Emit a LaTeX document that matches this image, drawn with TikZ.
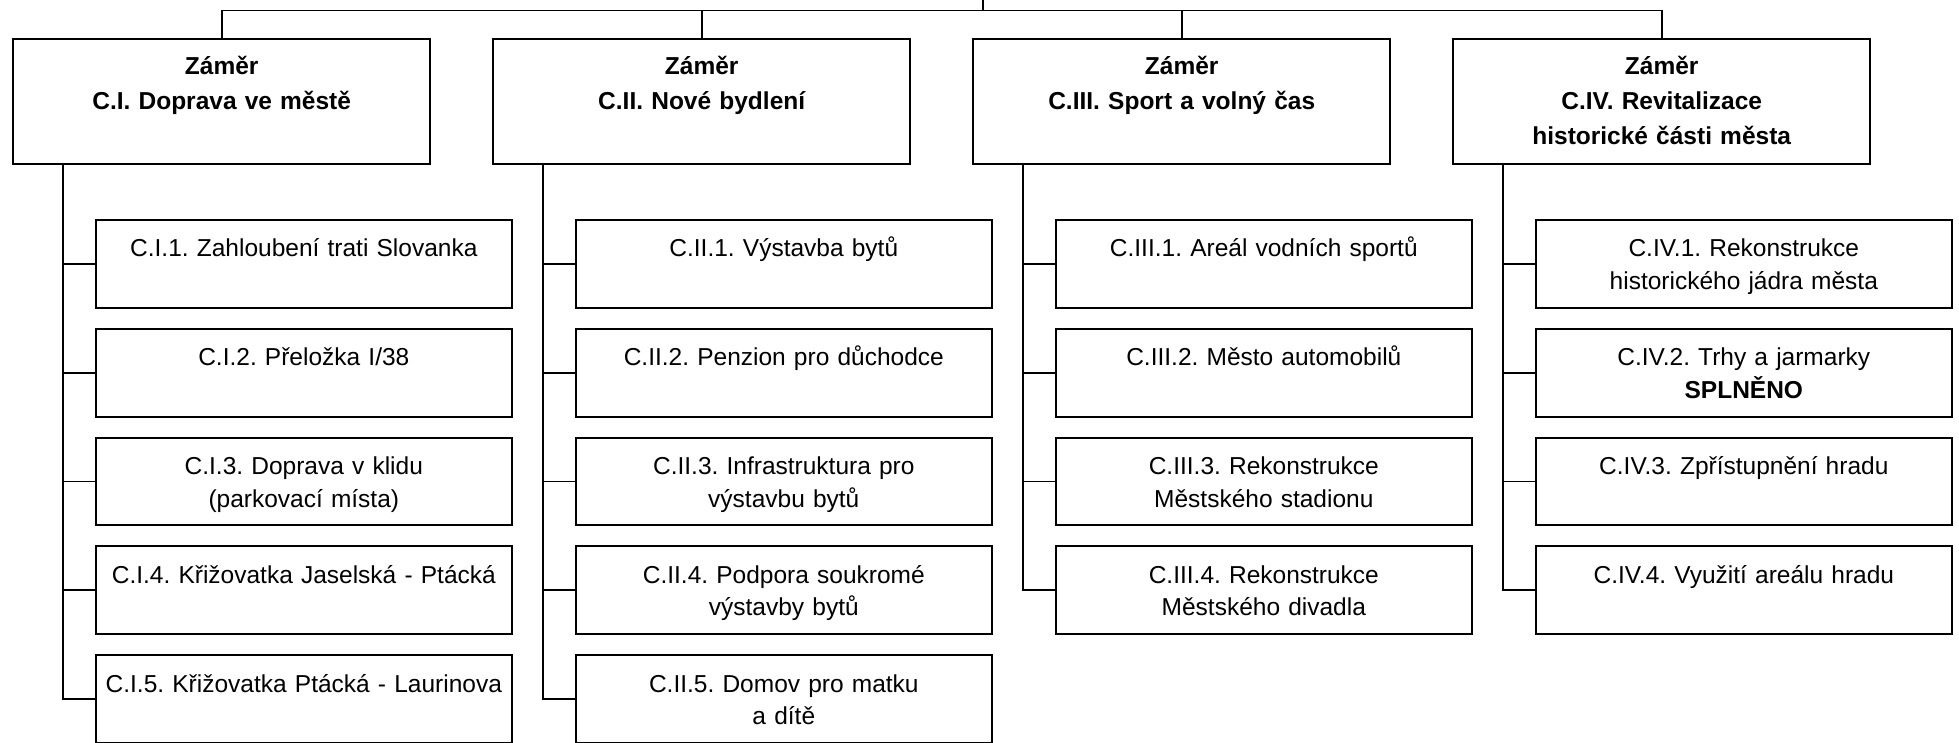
\documentclass[tikz,border=0pt]{standalone}
\usepackage{fontspec}
\setmainfont{Liberation Sans}
\usetikzlibrary{calc}
\frenchspacing
\begin{document}
\frenchspacing
\begin{tikzpicture}[x=1pt,y=-1pt,
  hdr/.style={draw, line width=1.9pt, inner sep=0pt, text width=416.7pt, align=center,
    text height=36.3pt, text depth=89pt, anchor=north,
    font=\frenchspacing\bfseries\fontsize{24.5}{35}\selectfont},
  item/.style={draw, line width=1.9pt, inner sep=0pt, text width=416.4pt, align=center,
    text height=37pt, text depth=50.8pt, anchor=north,
    font=\frenchspacing\fontsize{24.5}{32.5}\selectfont},
  conn/.style={line width=1.9pt}]
\useasboundingbox (0,0) rectangle (1959,743);
% headers
\node[hdr] (h1) at (221.7,37.7) {Záměr\\C.I. Doprava ve městě};
\node[hdr] (h2) at (701.7,37.7) {Záměr\\C.II. Nové bydlení};
\node[hdr] (h3) at (1181.7,37.7) {Záměr\\C.III. Sport a volný čas};
\node[hdr] (h4) at (1661.7,37.7) {Záměr\\C.IV. Revitalizace\\historické části města};
% column 1
\node[item] (c11) at (303.8,219) {C.I.1. Zahloubení trati Slovanka};
\node[item] (c12) at (303.8,327.8) {C.I.2. Přeložka I/38};
\node[item] (c13) at (303.8,436.6) {C.I.3. Doprava v klidu\\(parkovací místa)};
\node[item] (c14) at (303.8,545.4) {C.I.4. Křižovatka Jaselská - Ptácká};
\node[item] (c15) at (303.8,654.2) {C.I.5. Křižovatka Ptácká - Laurinova};
% column 2
\node[item] (c21) at (783.8,219) {C.II.1. Výstavba bytů};
\node[item] (c22) at (783.8,327.8) {C.II.2. Penzion pro důchodce};
\node[item] (c23) at (783.8,436.6) {C.II.3. Infrastruktura pro\\výstavbu bytů};
\node[item] (c24) at (783.8,545.4) {C.II.4. Podpora soukromé\\výstavby bytů};
\node[item] (c25) at (783.8,654.2) {C.II.5. Domov pro matku\\a dítě};
% column 3
\node[item] (c31) at (1263.8,219) {C.III.1. Areál vodních sportů};
\node[item] (c32) at (1263.8,327.8) {C.III.2. Město automobilů};
\node[item] (c33) at (1263.8,436.6) {C.III.3. Rekonstrukce\\Městského stadionu};
\node[item] (c34) at (1263.8,545.4) {C.III.4. Rekonstrukce\\Městského divadla};
% column 4
\node[item] (c41) at (1743.8,219) {C.IV.1. Rekonstrukce\\historického jádra města};
\node[item] (c42) at (1743.8,327.8) {C.IV.2. Trhy a jarmarky\\\textbf{SPLNĚNO}};
\node[item] (c43) at (1743.8,436.6) {C.IV.3. Zpřístupnění hradu};
\node[item] (c44) at (1743.8,545.4) {C.IV.4. Využití areálu hradu};
% top connectors
\coordinate (top) at (982.7,0);
\coordinate (bar) at (982.7,10.5);
\draw[conn] (top) -- (bar);
\draw[conn] (h1.north) |- (bar) -| (h4.north);
\draw[conn] (h2.north |- bar) -- (h2.north);
\draw[conn] (h3.north |- bar) -- (h3.north);
% trunks
\foreach \k in {1,2,3,4} {
  \coordinate (t\k) at ($(h\k.south west)+(51,0)$);
}
\foreach \i in {1,...,5} { \draw[conn] (t1) |- (c1\i.west); }
\foreach \i in {1,...,5} { \draw[conn] (t2) |- (c2\i.west); }
\foreach \i in {1,...,4} { \draw[conn] (t3) |- (c3\i.west); }
\foreach \i in {1,...,4} { \draw[conn] (t4) |- (c4\i.west); }
\end{tikzpicture}
\end{document}
